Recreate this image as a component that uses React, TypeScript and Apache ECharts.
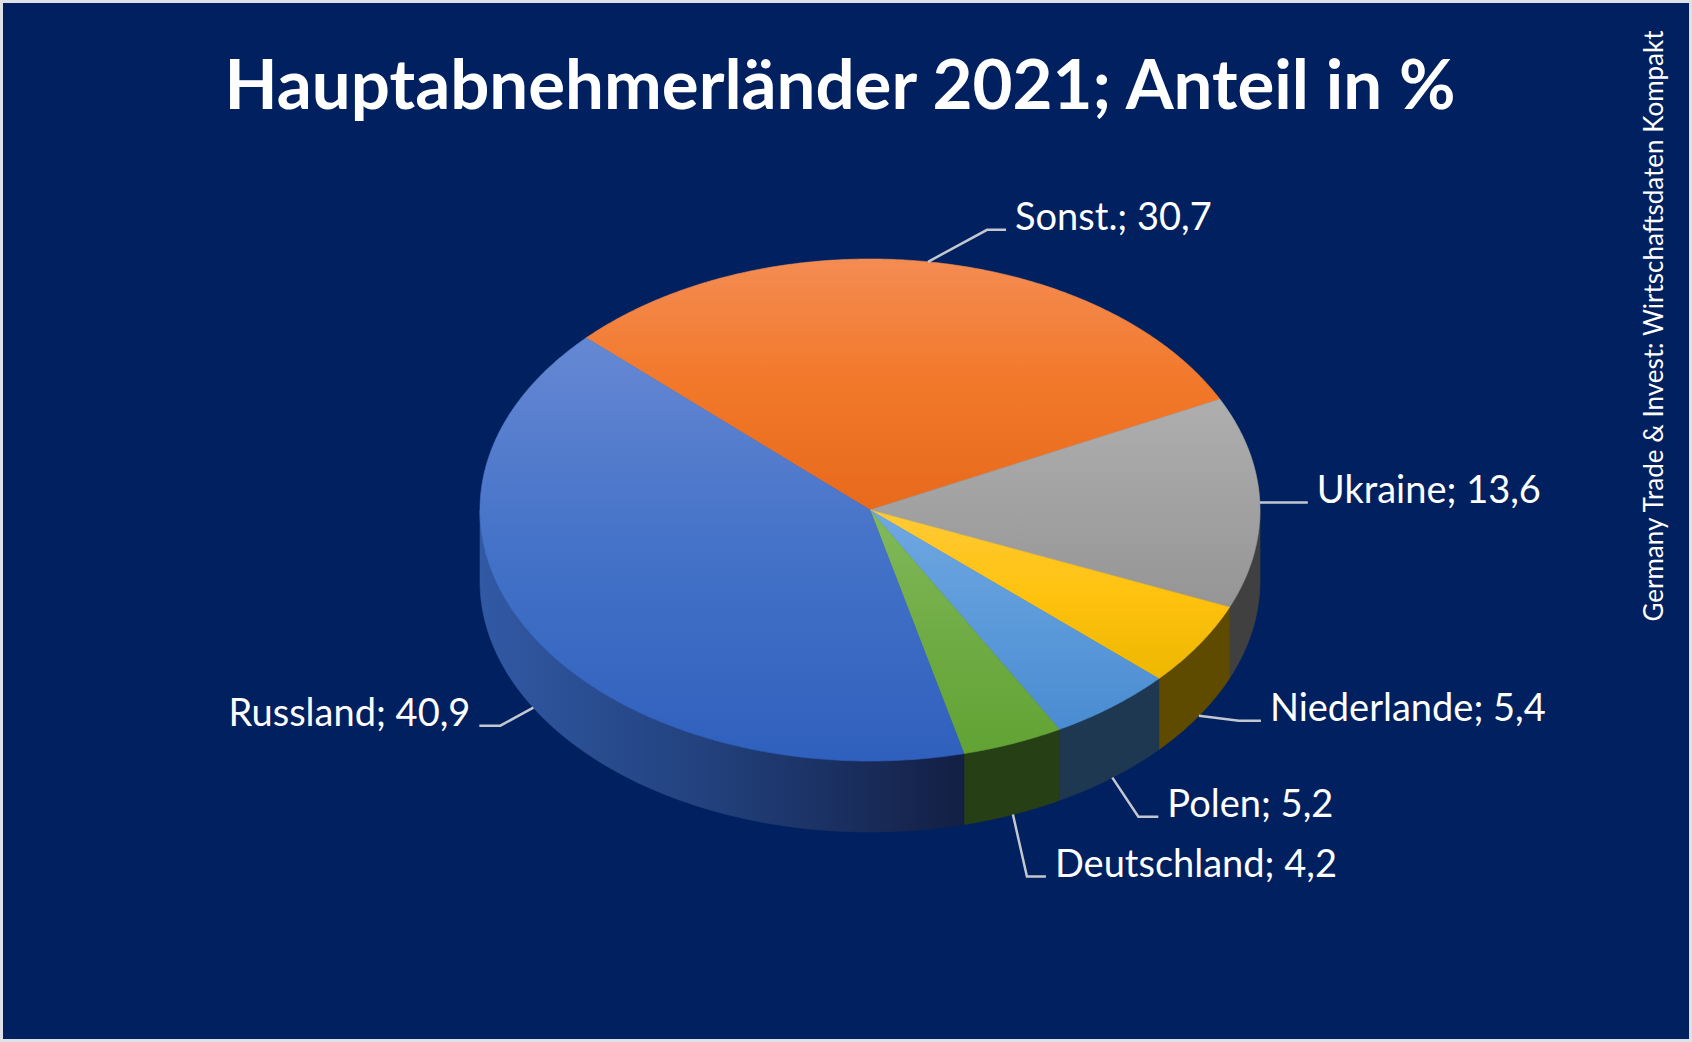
import React, { useEffect, useRef } from "react";
import * as echarts from "echarts";

// ---- data ----
const categories = ["Sonst.", "Ukraine", "Niederlande", "Polen", "Deutschland", "Russland"];
const shares = [30.7, 13.6, 5.4, 5.2, 4.2, 40.9];
const titleText = "Hauptabnehmerländer 2021; Anteil in %";
const sourceText = "Germany Trade & Invest: Wirtschaftsdaten Kompakt";

// ---- styles / layout ----
const topColors = [
  ["#F48C52", "#F2782A", "#E86A1C"],
  ["#AEAEAE", "#A2A2A2", "#959595"],
  ["#FFCA36", "#FFC20F", "#EDB700"],
  ["#70A8E2", "#5C9ADA", "#4A8CD1"],
  ["#82BA5C", "#70AC45", "#62A334"],
  ["#6688D3", "#4472C8", "#2F60BD"],
];
const sideColors = ["#7A3A0E", "#404040", "#5F4B00", "#1F3852", "#263F14", null];
// leader elbow offset (dx, dy) from anchor, tail length (sign = side)
const labelLayout = [
  [59, -32, 19],
  [25, 0, 23],
  [40, 5, 22],
  [26, 39, 20],
  [14, 62, 19],
  [-33, 18, -21],
];

const W = 1692;
const H = 1042;
const CX = 870;
const CY = 510;
const RX = 390;
const RY = 251;
const DEPTH = 71;
const START = 136.7;
const FONT = "Lato, 'Open Sans', sans-serif";
const LABEL_SIZE = 38;
const TITLE_SIZE = 69;
const SOURCE_SIZE = 26;

const total = shares.reduce((a, b) => a + b, 0);

function sliceAngles(i: number): [number, number] {
  let cum = 0;
  for (let j = 0; j < i; j++) cum += shares[j];
  const a0 = START - (cum / total) * 360;
  const a1 = a0 - (shares[i] / total) * 360;
  return [a0, a1];
}

function pt(a: number, dy = 0): number[] {
  const r = (a * Math.PI) / 180;
  return [CX + RX * Math.cos(r), CY - RY * Math.sin(r) + dy];
}

function arc(from: number, to: number, dy = 0): number[][] {
  const n = Math.max(2, Math.ceil(Math.abs(from - to) / 0.5));
  const out: number[][] = [];
  for (let k = 0; k <= n; k++) out.push(pt(from + ((to - from) * k) / n, dy));
  return out;
}

function fmt(v: number) {
  return v.toFixed(1).replace(".", ",");
}

export default function App() {
  const ref = useRef<HTMLDivElement>(null);

  useEffect(() => {
    document.body.style.margin = "0";
    if (!ref.current) return;
    const chart = echarts.init(ref.current, null, { renderer: "svg" });

    const sideSeries = {
      type: "custom",
      coordinateSystem: "none",
      silent: true,
      z: 1,
      data: shares,
      renderItem: (params: any) => {
        const i = params.dataIndex;
        const [a0, a1] = sliceAngles(i);
        const children: any[] = [];
        for (let k = -2; k <= 1; k++) {
          const lo = -180 + 360 * k;
          const hi = 360 * k;
          const s = Math.min(a0, hi);
          const e = Math.max(a1, lo);
          if (s > e) {
            const pts = arc(s, e, 0).concat(arc(e, s, DEPTH));
            const fill =
              sideColors[i] ??
              new echarts.graphic.LinearGradient(0, 0, 1, 0, [
                { offset: 0, color: "#3159A4" },
                { offset: 0.5, color: "#213F7A" },
                { offset: 1, color: "#131F44" },
              ]);
            children.push({
              type: "polygon",
              shape: { points: pts },
              style: { fill, stroke: fill, lineWidth: 0.6 },
            });
          }
        }
        return { type: "group", children };
      },
    };

    const topSeries = {
      type: "custom",
      coordinateSystem: "none",
      silent: true,
      z: 2,
      data: shares,
      renderItem: (params: any) => {
        const i = params.dataIndex;
        const [a0, a1] = sliceAngles(i);
        const pts = [[CX, CY]].concat(arc(a0, a1, 0));
        const m = (a0 + a1) / 2;
        const anchor = pt(m, Math.sin((m * Math.PI) / 180) < 0 ? DEPTH : 0);
        const [dx, dy, tail] = labelLayout[i];
        const elbow = [anchor[0] + dx, anchor[1] + dy];
        const end = [elbow[0] + tail, elbow[1]];
        const right = tail > 0;
        const grad = new echarts.graphic.LinearGradient(0, 0, 0, 1, [
          { offset: 0, color: topColors[i][0] },
          { offset: 0.5, color: topColors[i][1] },
          { offset: 1, color: topColors[i][2] },
        ]);
        return {
          type: "group",
          children: [
            {
              type: "polygon",
              shape: { points: pts },
              style: { fill: grad, stroke: grad, lineWidth: 0.6 },
            },
            {
              type: "polyline",
              shape: { points: [anchor, elbow, end] },
              style: { stroke: "#C3C8D0", lineWidth: 2.5, fill: null },
            },
            {
              type: "text",
              x: end[0] + (right ? 9 : -9),
              y: end[1] - 0.387 * LABEL_SIZE,
              style: {
                text: `${categories[i]}; ${fmt(shares[i])}`,
                fill: "#FFFFFF",
                font: `${LABEL_SIZE}px ${FONT}`,
                align: right ? "left" : "right",
                verticalAlign: "middle",
              },
            },
          ],
        };
      },
    };

    chart.setOption({
      animation: false,
      backgroundColor: "#DDE2E9",
      graphic: [
        {
          type: "rect",
          shape: { x: 3, y: 3, width: W - 6, height: H - 6 },
          style: { fill: "#002060" },
          z: -10,
          silent: true,
        },
        {
          type: "text",
          x: 840,
          y: 109 - 0.387 * TITLE_SIZE,
          style: {
            text: titleText,
            fill: "#FFFFFF",
            font: `bold ${TITLE_SIZE}px ${FONT}`,
            align: "center",
            verticalAlign: "middle",
          },
          silent: true,
        },
        {
          type: "text",
          x: 1653,
          y: 326,
          rotation: Math.PI / 2,
          style: {
            text: sourceText,
            fill: "#FFFFFF",
            font: `${SOURCE_SIZE}px ${FONT}`,
            align: "center",
            verticalAlign: "middle",
          },
          silent: true,
        },
      ],
      series: [sideSeries, topSeries],
    });

    return () => chart.dispose();
  }, []);

  return <div ref={ref} style={{ width: W, height: H }} />;
}
